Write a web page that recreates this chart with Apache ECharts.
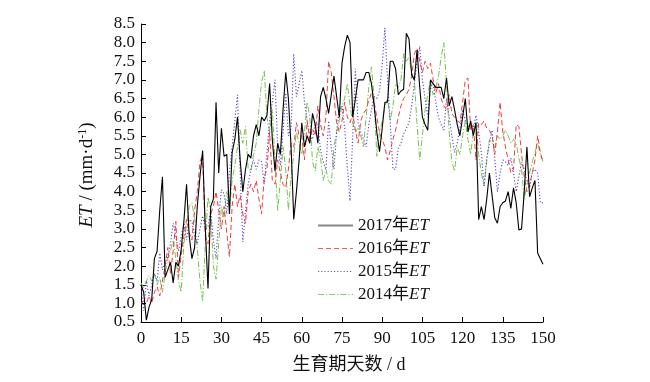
<!DOCTYPE html>
<html><head><meta charset="utf-8">
<script src="https://cdn.jsdelivr.net/npm/echarts@6/dist/echarts.min.js"></script>
<style>html,body{margin:0;padding:0;background:#fff}#c{width:650px;height:382px}</style>
</head><body><div id="c"></div>
<script>
const seriesNames = ['2017年ET', '2016年ET', '2015年ET', '2014年ET'];
const xTicks = [0, 15, 30, 45, 60, 75, 90, 105, 120, 135, 150];
const yTicks = [0.5, 1.0, 1.5, 2.0, 2.5, 3.0, 3.5, 4.0, 4.5, 5.0, 5.5, 6.0, 6.5, 7.0, 7.5, 8.0, 8.5];

const et2017 = [1.5,1.3,0.55,0.9,1.1,2.2,2.4,3.5,4.4,1.7,1.9,2.1,1.55,2.1,2.0,2.45,3.2,4.2,2.8,2.2,
2.5,3.6,4.4,5.1,3.0,1.4,3.6,3.8,6.4,4.5,5.7,4.95,5.0,3.4,5.05,5.4,6.0,4.85,4.0,4.6,
5.0,4.9,5.5,5.8,5.5,6.0,5.9,6.05,6.9,5.4,4.55,5.3,5.0,6.2,7.2,6.5,5.2,3.25,4.0,4.85,
5.85,5.2,5.5,5.3,6.1,5.8,5.3,6.55,6.8,6.5,6.1,6.6,7.1,6.55,6.0,7.45,7.9,8.2,8.0,6.0,
6.5,7.0,7.0,7.0,7.2,7.2,6.9,6.3,5.6,5.07,5.7,6.4,6.4,7.5,7.5,7.3,6.6,6.7,6.75,8.25,
8.1,7.13,7.0,7.8,6.8,6.0,5.8,5.65,7.0,6.9,6.8,6.8,6.8,6.5,7.05,6.3,6.55,6.2,5.8,5.5,
6.0,6.5,5.6,5.9,5.5,5.85,3.25,3.6,3.25,3.8,4.5,3.9,3.3,3.15,3.6,3.7,3.75,4.0,3.55,4.1,
3.7,2.97,3.0,4.0,5.2,3.86,4.1,4.3,2.35,2.2,2.05];

const et2016 = [1.0,1.05,1.0,1.2,1.0,1.3,1.45,1.2,1.6,2.0,2.5,1.8,2.4,3.2,1.7,2.3,2.8,3.25,2.9,2.7,
3.5,4.0,4.8,5.0,2.8,2.6,3.4,3.6,4.0,3.5,3.0,3.6,2.9,2.25,3.6,4.2,3.6,3.9,3.4,3.15,
4.0,4.2,4.0,4.3,3.8,3.4,4.4,4.6,5.6,4.3,4.2,4.85,4.5,4.2,4.1,4.6,5.3,5.2,5.85,5.5,
5.5,4.85,5.9,5.4,5.7,5.5,6.3,5.8,5.5,6.0,7.5,7.2,6.55,5.85,5.6,5.9,6.4,6.0,5.85,6.1,
5.65,5.3,5.9,6.1,6.2,6.45,6.65,6.4,6.0,5.6,5.4,5.2,4.85,5.1,5.4,5.65,6.0,6.3,6.5,6.6,
6.75,7.1,7.7,7.85,7.5,7.2,7.5,7.3,7.45,7.0,6.65,6.9,6.5,6.3,6.2,6.6,6.1,6.0,5.9,5.85,
6.4,7.0,7.05,5.65,5.8,4.85,5.85,5.8,5.9,5.7,5.65,5.5,5.0,5.6,6.4,5.6,5.2,4.85,4.5,4.6,
5.8,5.75,5.0,4.4,4.0,4.2,4.5,4.85,5.5,5.05,4.8];

const et2015 = [1.5,0.8,1.6,1.2,1.5,1.8,1.6,2.35,1.9,2.1,2.25,2.6,3.15,2.8,2.4,2.8,3.15,2.7,3.25,3.2,
2.8,2.6,3.0,3.35,3.0,3.05,3.5,2.7,2.2,3.3,4.05,3.95,3.4,4.5,5.2,5.9,6.6,4.5,2.65,3.5,
4.2,4.6,4.85,4.6,4.85,4.8,4.2,5.05,5.9,6.4,7.0,5.2,4.7,5.6,6.65,5.5,5.7,7.7,6.55,6.9,
7.25,6.4,5.9,5.5,5.4,5.85,5.85,5.1,4.8,4.6,5.9,5.2,4.6,5.6,6.2,6.3,5.7,4.65,3.75,5.5,
7.3,5.85,5.6,5.4,5.2,5.8,6.2,6.55,6.5,6.7,7.4,8.4,7.0,5.85,4.6,4.6,5.15,5.3,5.55,5.7,
5.85,6.3,6.9,7.5,7.9,7.0,6.5,6.0,6.8,6.9,6.4,6.0,5.8,5.65,6.5,6.0,5.5,5.05,5.3,5.7,
6.2,5.9,5.8,5.65,5.7,6.05,5.6,5.05,4.15,4.9,5.3,5.65,4.9,4.0,4.5,4.85,4.8,4.7,4.9,4.5,
4.0,4.4,4.8,4.6,4.3,4.1,4.5,4.6,4.5,3.7,3.7];

const et2014 = [1.55,1.4,1.6,1.75,1.6,1.8,1.5,1.7,1.3,1.8,2.2,2.4,2.7,2.2,1.6,1.3,2.6,3.1,3.6,3.7,
3.3,2.5,1.6,1.05,2.6,3.85,3.5,2.0,1.65,2.6,3.6,3.3,4.0,3.5,4.3,4.7,5.2,5.65,5.3,5.75,
4.6,4.55,5.0,5.3,6.2,6.95,7.25,6.0,5.6,6.2,4.8,3.5,4.3,5.2,4.6,3.5,4.4,5.0,5.6,5.3,
5.0,5.6,6.4,6.0,4.8,4.55,5.2,4.9,4.3,4.6,4.3,4.2,5.2,5.6,5.9,6.3,6.5,6.9,6.3,5.85,
5.6,5.7,5.5,5.2,6.0,6.8,7.35,6.5,4.95,5.6,5.9,6.3,6.5,5.9,6.3,6.9,6.8,7.0,7.7,7.5,
7.6,7.2,7.0,5.8,4.85,5.5,6.2,6.6,7.0,6.6,6.8,7.1,7.6,8.0,6.9,5.6,4.8,4.55,5.2,5.0,
5.5,5.9,5.4,5.0,5.6,5.85,5.0,4.5,4.15,4.8,5.4,5.3,5.2,5.5,5.4,5.5,5.65,5.5,5.3,5.4,
5.3,4.9,4.6,3.8,4.2,4.5,4.8,5.05,5.3,5.0,4.8];

const allSeries = [et2017, et2016, et2015, et2014];
const colors = ['#000000', '#f03c3c', '#5a46c8', '#78c350'];
const legendColors = ['#888888', '#f06060', '#6a58c8', '#88c860'];
const lineTypes = ['solid', [5, 3], [1.2, 2], [6, 2, 1.2, 2]];
const widths = [1.1, 1, 1.1, 1];

const serif = '"Liberation Serif", "Times New Roman", "Noto Sans CJK SC", serif';
const chart = echarts.init(document.getElementById('c'), null, {renderer: 'canvas'});
chart.setOption({
  animation: false,
  backgroundColor: '#fff',
  grid: {left: 141, right: 107, top: 24, bottom: 60, containLabel: false},
  legend: {
    orient: 'vertical', left: 312, top: 212,
    itemWidth: 35, itemHeight: 14, itemGap: 6,
    data: seriesNames.map((n, k) => ({name: n,
      itemStyle: {color: 'rgba(0,0,0,0)', borderColor: 'rgba(0,0,0,0)', borderWidth: 0, opacity: 0},
      lineStyle: {color: legendColors[k], width: k === 0 ? 2 : 1.2}})),
    formatter: n => n.replace('ET', '') + '{i|ET}',
    textStyle: {fontFamily: serif, fontSize: 17, color: '#111',
      rich: {i: {fontStyle: 'italic', fontFamily: serif, fontSize: 17, color: '#111'}}}
  },
  xAxis: {
    type: 'value', min: 0, max: 150, interval: 15,
    name: '生育期天数 / d', nameLocation: 'middle', nameGap: 34,
    nameTextStyle: {fontFamily: serif, fontSize: 18, color: '#111', padding: [0, 0, 0, 14]},
    axisLine: {lineStyle: {color: '#000', width: 1}},
    axisTick: {inside: true, length: 5, lineStyle: {color: '#000'}},
    axisLabel: {fontFamily: serif, fontSize: 17, color: '#111', margin: 8},
    splitLine: {show: false}
  },
  yAxis: {
    type: 'value', min: 0.5, max: 8.5, interval: 0.5,
    name: '{i|ET} / (mm·d{s|-1})', nameLocation: 'middle', nameGap: 43,
    nameTextStyle: {fontFamily: serif, fontSize: 19, color: '#111', padding: [0, 4, 0, 0],
      rich: {i: {fontStyle: 'italic', fontFamily: serif, fontSize: 19, color: '#111'},
             s: {fontFamily: serif, fontSize: 12, color: '#111', verticalAlign: 'top', padding: [0, 0, 9, 0]}}},
    axisLine: {show: true, lineStyle: {color: '#000', width: 1}},
    axisTick: {show: true, inside: true, length: 5, lineStyle: {color: '#000'}},
    axisLabel: {fontFamily: serif, fontSize: 17, color: '#111', margin: 6, formatter: v => v.toFixed(1)},
    splitLine: {show: false}
  },
  series: allSeries.map((arr, k) => ({
    name: seriesNames[k], type: 'line', showSymbol: false, symbol: 'none',
    data: arr.map((v, i) => [i, v]),
    z: 10 - k,
    lineStyle: {color: colors[k], width: widths[k], type: lineTypes[k]},
    itemStyle: {color: colors[k]}
  }))
});
</script></body></html>
